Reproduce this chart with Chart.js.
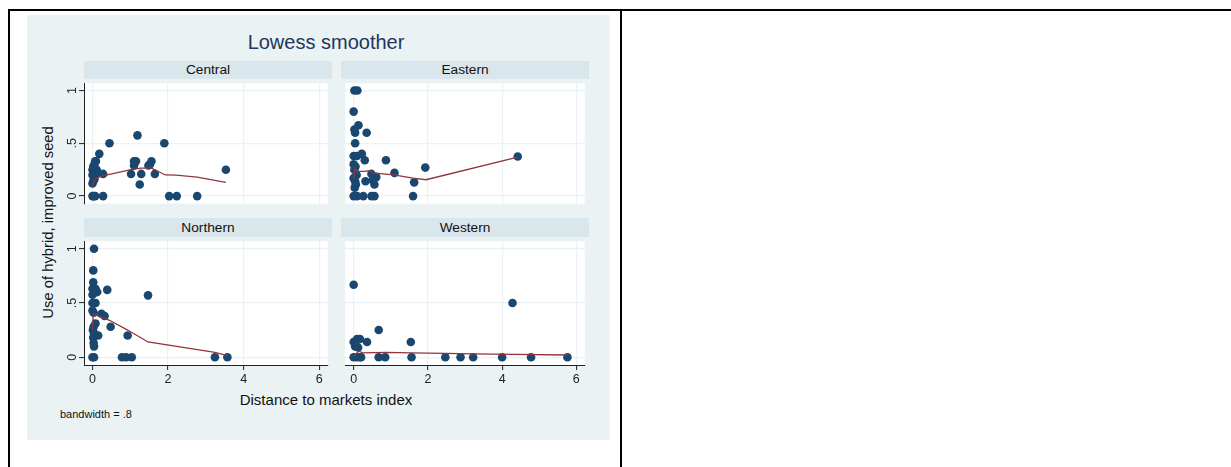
<!DOCTYPE html>
<html><head><meta charset="utf-8">
<script src="https://cdn.jsdelivr.net/npm/chart.js@4.4.0/dist/chart.umd.min.js"></script>
<style>
body{margin:0;width:1231px;height:467px;background:#fff;position:relative;overflow:hidden;font-family:"Liberation Sans",Arial,sans-serif;}
.abs{position:absolute;}
#frameTop{left:8px;top:9px;width:1223px;height:2px;background:#000}
#frameLeft{left:8px;top:9px;width:2px;height:470px;background:#000}
#divider{left:620px;top:9px;width:2px;height:470px;background:#000}
#bg{left:27px;top:15px;width:583px;height:425px;background:#EAF2F3}
.hdr{position:absolute;background:#D9E6EB;}
.htxt{position:absolute;width:248px;text-align:center;font-size:13.7px;line-height:13.7px;color:#111;white-space:nowrap}
canvas{position:absolute}
</style></head>
<body>
<div id="frameTop" class="abs"></div>
<div id="frameLeft" class="abs"></div>
<div id="divider" class="abs"></div>
<div id="bg" class="abs"></div>
<div class="abs" style="left:126px;top:32px;width:400px;text-align:center;font-size:20px;line-height:20px;color:#22365E;white-space:nowrap">Lowess smoother</div>

<div class="hdr" style="left:84px;top:61px;width:248px;height:18px"></div>
<div class="hdr" style="left:341px;top:61px;width:248px;height:18px"></div>
<div class="hdr" style="left:84px;top:218px;width:248px;height:19px"></div>
<div class="hdr" style="left:341px;top:218px;width:248px;height:19px"></div>
<div class="htxt" style="left:84px;top:63.4px">Central</div>
<div class="htxt" style="left:341px;top:63.4px">Eastern</div>
<div class="htxt" style="left:84px;top:220.8px">Northern</div>
<div class="htxt" style="left:341px;top:220.8px">Western</div>

<canvas id="cC" width="272" height="129" style="left:60px;top:79px"></canvas>
<canvas id="cE" width="248" height="129" style="left:341px;top:79px"></canvas>
<canvas id="cN" width="272" height="150" style="left:60px;top:237px"></canvas>
<canvas id="cW" width="248" height="150" style="left:341px;top:237px"></canvas>

<div class="abs" style="left:126px;top:392.3px;width:400px;text-align:center;font-size:15px;line-height:15px;color:#111;white-space:nowrap">Distance to markets index</div>
<div class="abs" style="left:60px;top:409.2px;font-size:11px;line-height:11px;color:#111;white-space:nowrap">bandwidth = .8</div>
<div class="abs" style="left:-102px;top:214.6px;width:300px;text-align:center;font-size:14.8px;line-height:14.8px;color:#111;white-space:nowrap;transform:rotate(-90deg);transform-origin:50% 50%">Use of hybrid, improved seed</div>

<script>
// ---- data ----
const xTickValues = [0, 2, 4, 6];
const xTickLabels = ["0", "2", "4", "6"];
const yTickValues = [0, 0.5, 1];
const yTickLabels = ["0", ".5", "1"];

const centralX = [0, 0.03, 0.07, 0.28, 2.03, 2.23, 2.77, 0, 0.02, 0.05, 0.08, 0, 0.03, 0, 0.11, 0.02, 0.05, 0.09, 0.07, 0.18, 0.45, 0.28, 1.02, 1.25, 1.29, 1.65, 1.10, 1.10, 1.15, 1.48, 1.52, 1.56, 1.19, 1.90, 3.53];
const centralY = [0, 0, 0, 0, 0, 0, 0, 0.12, 0.14, 0.16, 0.2, 0.2, 0.22, 0.25, 0.25, 0.28, 0.3, 0.33, 0.33, 0.4, 0.5, 0.21, 0.21, 0.11, 0.21, 0.21, 0.29, 0.33, 0.33, 0.29, 0.3, 0.33, 0.575, 0.5, 0.25];
const centralFitX = [0, 0.06, 0.24, 1.02, 1.28, 1.56, 1.93, 2.21, 2.77, 3.53];
const centralFitY = [0.09, 0.16, 0.19, 0.25, 0.265, 0.265, 0.2, 0.198, 0.18, 0.13];

const easternX = [0.02, 0.10, 0, 0.13, 0.02, 0.04, 0.35, 0.04, 0, 0.09, 0.22, 0.30, 0.87, 1.93, 1.10, 0.48, 0.61, 0.52, 0.32, 0.56, 1.63, 4.42, 0, 0.05, 0.02, 0.08, 0, 0.04, 0.06, 0.03, 0, 0.09, 0.26, 0.48, 0.56, 1.6];
const easternY = [1, 1, 0.8, 0.67, 0.63, 0.6, 0.6, 0.5, 0.38, 0.38, 0.4, 0.34, 0.34, 0.27, 0.22, 0.21, 0.18, 0.15, 0.14, 0.11, 0.13, 0.375, 0.3, 0.28, 0.25, 0.2, 0.17, 0.14, 0.11, 0.08, 0, 0, 0, 0, 0, 0];
const easternFitX = [0, 0.04, 0.09, 0.3, 0.43, 0.52, 1.08, 1.6, 1.95, 4.42];
const easternFitY = [0.16, 0.265, 0.235, 0.235, 0.24, 0.22, 0.2, 0.17, 0.155, 0.37];

const northernX = [0.04, 0.02, 0.02, 0, 0.08, 0, 0.125, 0.39, 1.47, 0, 0.08, 0, 0.03, 0.24, 0.32, 0.08, 0.03, 0.48, 0.15, 0.93, 0.02, 0.03, 0.04, 0.01, 0.04, 0, 0.04, 0.78, 0.89, 1.04, 3.24, 3.57];
const northernY = [1, 0.8, 0.69, 0.63, 0.63, 0.575, 0.6, 0.62, 0.57, 0.5, 0.5, 0.43, 0.41, 0.4, 0.38, 0.31, 0.28, 0.28, 0.2, 0.2, 0.18, 0.13, 0.1, 0.25, 0.22, 0, 0, 0, 0, 0, 0, 0];
const northernFitX = [0, 0.02, 0.15, 0.45, 0.93, 1.47, 3.24, 3.57];
const northernFitY = [0.25, 0.40, 0.38, 0.34, 0.25, 0.14, 0.045, 0.015];

const westernX = [0, 0.675, 0, 0.09, 0.17, 0.36, 1.54, 0.04, 0.12, 0, 0.09, 0.17, 0.2, 0.675, 0.85, 1.56, 2.47, 2.88, 3.22, 4.0, 4.78, 5.76, 4.28];
const westernY = [0.667, 0.25, 0.14, 0.167, 0.167, 0.14, 0.14, 0.1, 0.09, 0, 0, 0, 0, 0, 0, 0, 0, 0, 0, 0, 0, 0, 0.5];
const westernFitX = [0, 0.13, 0.26, 0.87, 1.56, 2.47, 3.22, 4.28, 5.76];
const westernFitY = [0.005, 0.055, 0.04, 0.045, 0.04, 0.035, 0.03, 0.025, 0.02];

// ---- styling ----
const FONT = '"Liberation Sans", Arial, sans-serif';
const axisColor = '#222';
const gridColor = '#EAF2F3';
const xMin = -0.225, xMax = 6.225, yMin = -0.072, yMax = 1.068;

const plotBg = {
  id: 'plotBg',
  beforeDraw(chart) {
    const a = chart.chartArea, ctx = chart.ctx;
    ctx.save(); ctx.fillStyle = '#fff';
    ctx.fillRect(a.left, a.top, a.right - a.left, a.bottom - a.top);
    ctx.restore();
  }
};
const rotYLabels = {
  id: 'rotYLabels',
  afterDraw(chart, args, opts) {
    if (!opts.show) return;
    const s = chart.scales.y, ctx = chart.ctx;
    ctx.save();
    ctx.font = '12.5px ' + FONT;
    ctx.fillStyle = axisColor;
    ctx.textAlign = 'center'; ctx.textBaseline = 'alphabetic';
    yTickValues.forEach((v, i) => {
      const py = s.getPixelForValue(v);
      ctx.save(); ctx.translate(opts.x, py); ctx.rotate(-Math.PI / 2);
      ctx.fillText(yTickLabels[i], 0, 0); ctx.restore();
    });
    ctx.restore();
  }
};

function makeChart(id, xs, ys, fx, fy, left, bottom) {
  const pts = xs.map((x, i) => ({x: x, y: ys[i]}));
  const fit = fx.map((x, i) => ({x: x, y: fy[i]}));
  new Chart(document.getElementById(id), {
    type: 'scatter',
    data: {datasets: [
      {type: 'line', data: fit, borderColor: '#90353B', borderWidth: 1.3, pointRadius: 0, fill: false, tension: 0, order: 0},
      {type: 'scatter', data: pts, backgroundColor: '#1A476F', borderWidth: 0, pointRadius: 4.3, order: 1}
    ]},
    options: {
      responsive: false, animation: false, events: [],
      layout: {padding: 0},
      plugins: {legend: {display: false}, tooltip: {enabled: false}, rotYLabels: {show: left, x: 15.5}},
      scales: {
        x: {
          type: 'linear', min: xMin, max: xMax,
          afterBuildTicks: s => { s.ticks = xTickValues.map(v => ({value: v})); },
          grid: {color: gridColor, lineWidth: 1.2, drawTicks: bottom, tickLength: 5, tickColor: axisColor, tickWidth: 1},
          border: {display: bottom, color: axisColor, width: 1},
          ticks: {display: bottom, font: {size: 12.5, family: FONT}, color: axisColor, padding: 2, maxRotation: 0, minRotation: 0,
                  callback: (v) => xTickLabels[xTickValues.indexOf(v)]},
          afterFit: s => { s.height = bottom ? 22 : 0; }
        },
        y: {
          type: 'linear', min: yMin, max: yMax,
          afterBuildTicks: s => { s.ticks = yTickValues.map(v => ({value: v})); },
          grid: {color: gridColor, lineWidth: 1.2, drawTicks: left, tickLength: 5, tickColor: axisColor, tickWidth: 1},
          border: {display: left, color: axisColor, width: 1},
          ticks: {display: false},
          afterFit: s => { s.width = left ? 24 : 0; }
        }
      }
    },
    plugins: [plotBg, rotYLabels]
  });
}

makeChart('cC', centralX, centralY, centralFitX, centralFitY, true, false);
makeChart('cE', easternX, easternY, easternFitX, easternFitY, false, false);
makeChart('cN', northernX, northernY, northernFitX, northernFitY, true, true);
makeChart('cW', westernX, westernY, westernFitX, westernFitY, false, true);
</script>
</body></html>
